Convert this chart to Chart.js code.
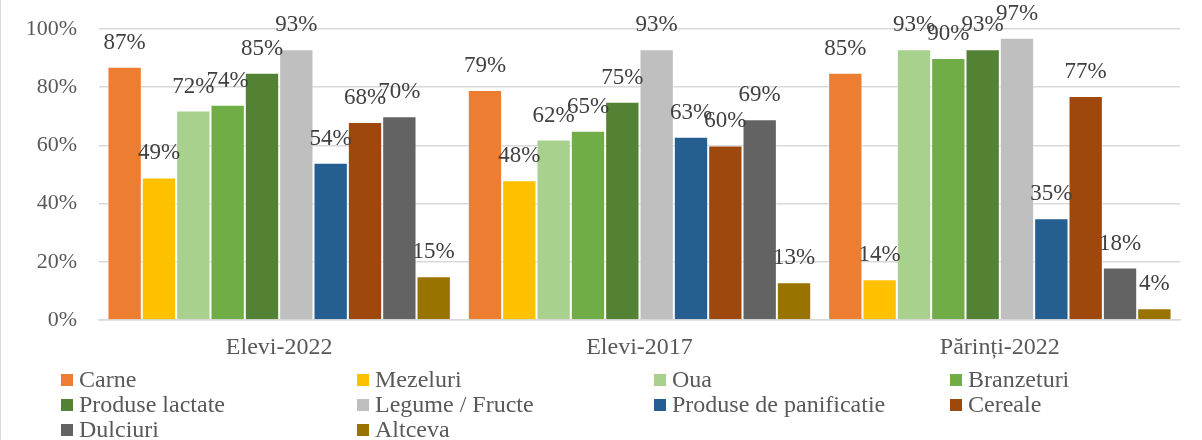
<!DOCTYPE html>
<html>
<head>
<meta charset="utf-8">
<script src="https://cdn.jsdelivr.net/npm/chart.js@4"></script>
<style>
  html, body { margin: 0; padding: 0; background: #fff; }
  #wrap { position: relative; width: 1202px; height: 440px; border-left: 1.5px solid #d9d9d9; box-sizing: border-box; }
</style>
</head>
<body>
<div id="wrap"><canvas id="chart" width="1200" height="440"></canvas></div>
<script>
// -------------------------------
// Data
// -------------------------------
const groups = ["Elevi-2022", "Elevi-2017", "Părinți-2022"];
const seriesNames = ["Carne", "Mezeluri", "Oua", "Branzeturi", "Produse lactate",
    "Legume / Fructe", "Produse de panificatie", "Cereale", "Dulciuri", "Altceva"];
const carne       = [87, 79, 85];
const mezeluri    = [49, 48, 14];
const oua         = [72, 62, 93];
const branzeturi  = [74, 65, 90];
const lactate     = [85, 75, 93];
const legume      = [93, 93, 97];
const panificatie = [54, 63, 35];
const cereale     = [68, 60, 77];
const dulciuri    = [70, 69, 18];
const altceva     = [15, 13, 4];
const yTicks = [0, 20, 40, 60, 80, 100];

const seriesValues = [carne, mezeluri, oua, branzeturi, lactate, legume, panificatie, cereale, dulciuri, altceva];
const colors = ["#ED7D31", "#FFC000", "#A9D18E", "#70AD47", "#548235",
    "#BFBFBF", "#255E91", "#9E480E", "#636363", "#997300"];

const FONT = "'Liberation Serif', 'Times New Roman', serif";

// -------------------------------
// Plugins: value labels + 4-column legend
// -------------------------------
const valueLabels = {
    id: 'valueLabels',
    afterDatasetsDraw(chart) {
        const c = chart.ctx;
        c.save();
        c.font = "23px " + FONT;
        c.fillStyle = "#404040";
        c.textAlign = "center";
        c.textBaseline = "middle";
        chart.data.datasets.forEach((ds, i) => {
            chart.getDatasetMeta(i).data.forEach((bar, j) => {
                c.fillText(ds.data[j] + "%", bar.x, bar.y - 24);
            });
        });
        c.restore();
    }
};

const gridLegend = {
    id: 'gridLegend',
    afterDraw(chart) {
        const c = chart.ctx;
        const cols = [60, 356, 653, 949];
        const rows = [380, 405, 430];
        c.save();
        c.font = "24px " + FONT;
        c.textBaseline = "middle";
        c.textAlign = "left";
        chart.data.datasets.forEach((ds, i) => {
            const x = cols[i % 4];
            const y = rows[Math.floor(i / 4)];
            c.fillStyle = ds.backgroundColor;
            c.fillRect(x, y - 6, 12, 12);
            c.fillStyle = "#595959";
            c.fillText(ds.label, x + 18, y + 1);
        });
        c.restore();
    }
};

// -------------------------------
// Chart
// -------------------------------
const ctx = document.getElementById('chart').getContext('2d');
new Chart(ctx, {
    type: 'bar',
    data: {
        labels: groups,
        datasets: seriesNames.map((name, i) => ({
            label: name,
            data: seriesValues[i],
            backgroundColor: colors[i],
            borderColor: "rgba(255,255,255,0.55)",
            borderWidth: 1,
            categoryPercentage: 0.953,
            barPercentage: 1
        }))
    },
    options: {
        responsive: false,
        animation: false,
        layout: { padding: { top: 29, right: 21, left: 0, bottom: 0 } },
        plugins: {
            legend: { display: false },
            tooltip: { enabled: false }
        },
        scales: {
            x: {
                grid: { display: false, drawTicks: false },
                border: { display: true, color: "#d9d9d9", width: 1.5 },
                ticks: { color: "#595959", font: { family: FONT, size: 24 }, padding: 13 },
                afterFit: s => { s.height = 120; }
            },
            y: {
                min: 0,
                max: 100,
                afterBuildTicks: s => { s.ticks = yTicks.map(v => ({ value: v })); },
                grid: { color: "#d9d9d9", lineWidth: 1.5, drawTicks: false },
                border: { display: false },
                ticks: {
                    color: "#595959",
                    font: { family: FONT, size: 22 },
                    padding: 22,
                    callback: v => v + "%"
                },
                // fixed axis width, no extra top padding from the tick labels
                afterFit: s => { s.width = 98; s.paddingTop = 0; s.paddingBottom = 0; }
            }
        }
    },
    plugins: [valueLabels, gridLegend]
});
</script>
</body>
</html>
